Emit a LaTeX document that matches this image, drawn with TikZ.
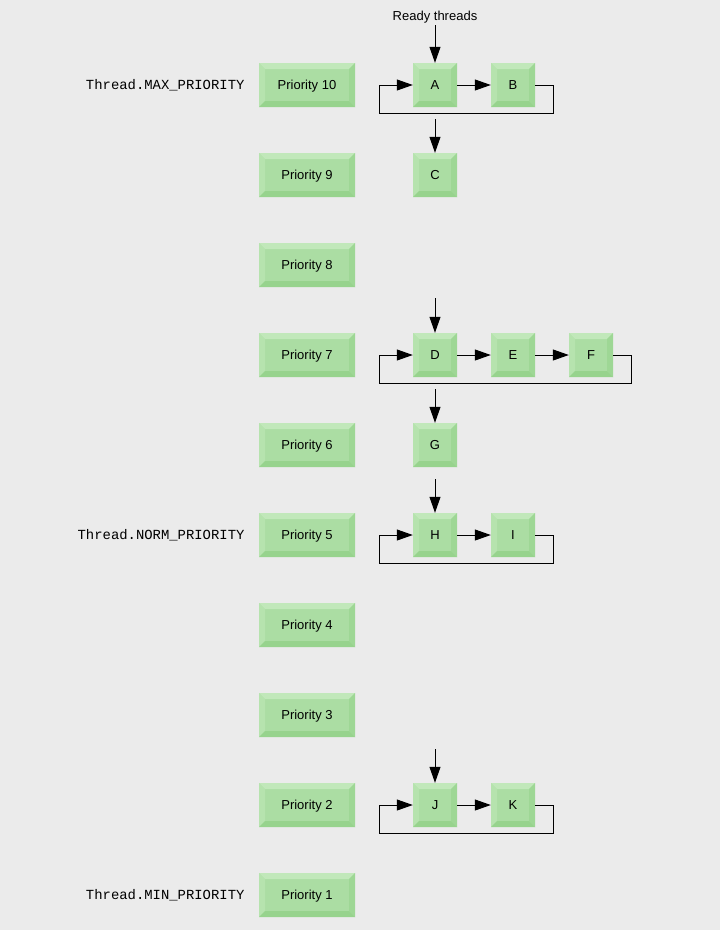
\documentclass[tikz,border=0pt]{standalone}
\usepackage{fontspec}
\setmainfont{Liberation Sans}
\setmonofont{Liberation Mono}
\usetikzlibrary{arrows.meta}
\definecolor{bgcol}{HTML}{EBEBEB}
\definecolor{face}{HTML}{ABDDA3}
\definecolor{bevtop}{HTML}{C1E8BA}
\definecolor{bevleft}{HTML}{B6E3AE}
\definecolor{bevright}{HTML}{9ED795}
\definecolor{bevbottom}{HTML}{97D38D}
\tikzset{
	bevel/.style={fill=face, inner sep=0pt, text height=9.5pt, text depth=0pt,
		font=\fontsize{13}{15}\selectfont,
		path picture={
			\path (path picture bounding box.north west) coordinate (nw)
				(path picture bounding box.north east) coordinate (ne)
				(path picture bounding box.south east) coordinate (se)
				(path picture bounding box.south west) coordinate (sw);
			\fill[bevtop] (nw) -- (ne) -- ([shift={(-6pt,-6pt)}]ne) -- ([shift={(6pt,-6pt)}]nw) -- cycle;
			\fill[bevleft] (nw) -- (sw) -- ([shift={(6pt,6pt)}]sw) -- ([shift={(6pt,-6pt)}]nw) -- cycle;
			\fill[bevright] (ne) -- (se) -- ([shift={(-6pt,6pt)}]se) -- ([shift={(-6pt,-6pt)}]ne) -- cycle;
			\fill[bevbottom] (sw) -- (se) -- ([shift={(-6pt,6pt)}]se) -- ([shift={(6pt,6pt)}]sw) -- cycle;
		}},
	prio/.style={bevel, minimum width=96pt, minimum height=44pt},
	thread/.style={bevel, minimum width=44pt, minimum height=44pt},
	arr/.style={-{Triangle[length=16pt,width=11pt]}, line width=1pt},
	lvl/.style={anchor=east, text height=9.5pt, text depth=0pt, font=\ttfamily\fontsize{13.9}{16}\selectfont}
}
\begin{document}
\begin{tikzpicture}[x=1pt, y=-1pt]
			\fill[bgcol] (0, 0) rectangle (720, 930);
			\useasboundingbox (0, 0) rectangle (720, 930);

			%%the priority levels
			\node[prio] (p10) at (307, 85){Priority 10};
			\node[prio] (p9) at (307, 175){Priority 9};
			\node[prio] (p8) at (307, 265){Priority 8};
			\node[prio] (p7) at (307, 355){Priority 7};
			\node[prio] (p6) at (307, 445){Priority 6};
			\node[prio] (p5) at (307, 535){Priority 5};
			\node[prio] (p4) at (307, 625){Priority 4};
			\node[prio] (p3) at (307, 715){Priority 3};
			\node[prio] (p2) at (307, 805){Priority 2};
			\node[prio] (p1) at (307, 895){Priority 1};

			\node[lvl] (maxp) at (248, 85){Thread.MAX\_PRIORITY};
			\node[lvl] (normp) at (248, 535){Thread.NORM\_PRIORITY};
			\node[lvl] (minp) at (248, 895){Thread.MIN\_PRIORITY};

			%%priority 10 and 9
			\node[font=\fontsize{13}{15}\selectfont, inner sep=2pt] (ready) at (435, 17){Ready threads};
			\node[thread] (A) at (435, 85){A};
			\node[thread] (B) at (513, 85){B};
			\node[thread] (C) at (435, 175){C};
			\coordinate (loopAB) at (379, 113);
			\coordinate (headC) at (435, 119);
			\draw[arr] (ready) to (A);
			\draw[arr] (A) to (B);
			\draw[arr] (B.east) -- ++(18, 0) |- (loopAB) |- (A.west);
			\draw[arr] (headC) to (C.north);

			%%priority 7 and 6
			\node[thread] (D) at (435, 355){D};
			\node[thread] (E) at (513, 355){E};
			\node[thread] (F) at (591, 355){F};
			\node[thread] (G) at (435, 445){G};
			\coordinate (headD) at (435, 298);
			\coordinate (loopDF) at (379, 383);
			\coordinate (headG) at (435, 389);
			\draw[arr] (headD) to (D.north);
			\draw[arr] (D) to (E);
			\draw[arr] (E) to (F);
			\draw[arr] (F.east) -- ++(18, 0) |- (loopDF) |- (D.west);
			\draw[arr] (headG) to (G.north);

			%%priority 5
			\node[thread] (H) at (435, 535){H};
			\node[thread] (I) at (513, 535){I};
			\coordinate (headH) at (435, 479);
			\coordinate (loopHI) at (379, 563);
			\draw[arr] (headH) to (H.north);
			\draw[arr] (H) to (I);
			\draw[arr] (I.east) -- ++(18, 0) |- (loopHI) |- (H.west);

			%%priority 2
			\node[thread] (J) at (435, 805){J};
			\node[thread] (K) at (513, 805){K};
			\coordinate (headJ) at (435, 749);
			\coordinate (loopJK) at (379, 833);
			\draw[arr] (headJ) to (J.north);
			\draw[arr] (J) to (K);
			\draw[arr] (K.east) -- ++(18, 0) |- (loopJK) |- (J.west);
		\end{tikzpicture}
\end{document}
